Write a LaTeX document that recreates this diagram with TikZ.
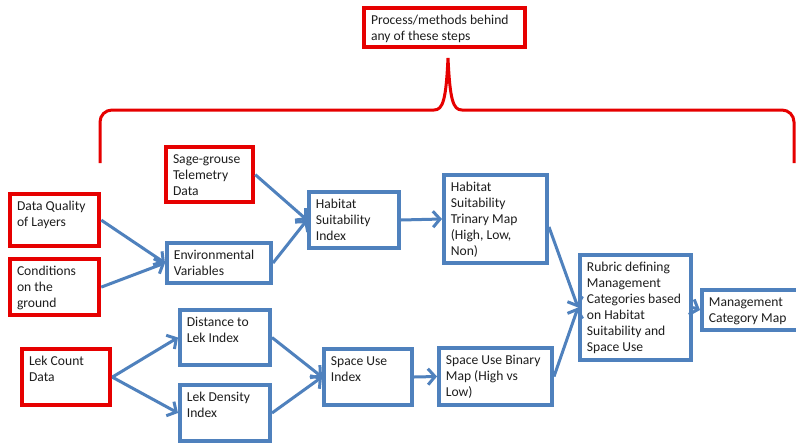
\documentclass[tikz,border=0pt]{standalone}
\usepackage{fontspec}
\setmainfont{Carlito}
\usetikzlibrary{arrows.meta}
\definecolor{bred}{RGB}{230,0,0}
\definecolor{bblue}{RGB}{79,129,189}
\definecolor{txtc}{RGB}{30,30,30}
% #1 style, #2 name, #3 x1, #4 y1, #5 x2, #6 y2 (outer edges, px), #7 lines
\newcommand\fbx[7]{\node[#1, anchor=north west] (#2) at (#3,#4)
  {\parbox[t][\dimexpr #6pt-#4pt-13.75pt\relax][t]{\dimexpr #5pt-#3pt-17.75pt\relax}{\begin{tabular}[t]{@{}l@{}}#7\end{tabular}}};}
\begin{document}
\begin{tikzpicture}[x=1pt,y=-1pt,
  font=\fontsize{13.6}{16}\selectfont,
  redbox/.style={draw=bred, line width=4pt, fill=white, text=txtc, inner xsep=7pt, inner ysep=5pt},
  bluebox/.style={draw=bblue, line width=3.75pt, fill=white, text=txtc, inner xsep=7pt, inner ysep=5pt},
  flow/.style={draw=bblue, line width=3pt, -{Straight Barb[length=7pt,width=16pt]}},
  brace/.style={draw=bred, line width=3pt}]
\useasboundingbox (0,0) rectangle (796,445);
\fill[white] (0,0) rectangle (796,445);

\fbx{redbox}{proc}{362}{6}{527}{49}{Process/methods behind\\any of these steps}
\fbx{redbox}{sage}{164}{145}{255}{204}{Sage-grouse\\Telemetry\\Data}
\fbx{redbox}{dq}{8}{192}{101}{248}{Data Quality\\of Layers}
\fbx{redbox}{cond}{8}{257}{101}{317}{Conditions\\on the\\ground}
\fbx{redbox}{lek}{20}{347}{112}{407}{Lek Count\\Data}
\fbx{bluebox}{env}{165}{241}{273}{285}{Environmental\\Variables}
\fbx{bluebox}{hsi}{307}{190}{401}{250}{Habitat\\Suitability\\Index}
\fbx{bluebox}{tri}{442}{173}{549}{265}{Habitat\\Suitability\\Trinary Map\\(High, Low,\\Non)}
\fbx{bluebox}{dist}{178}{308}{272}{367}{Distance to\\Lek Index}
\fbx{bluebox}{dens}{178}{383}{272}{443}{Lek Density\\Index}
\fbx{bluebox}{sui}{322}{347}{414}{407}{Space Use\\Index}
\fbx{bluebox}{bin}{437}{346}{554}{407}{Space Use Binary\\Map (High vs\\Low)}
\fbx{bluebox}{rub}{578}{253}{693}{362}{Rubric defining\\Management\\Categories based\\on Habitat\\Suitability and\\Space Use}
\fbx{bluebox}{mcm}{700}{288}{806}{332}{Management\\Category Map}

% brace
\draw[brace] (100,163) -- (100,122) to[out=90,in=180] (112,110) -- (434,110)
  .. controls (443,110) and (446,100) .. (448,58)
  .. controls (450,100) and (453,110) .. (462,110)
  -- (782,110) to[out=0,in=90] (794,122) -- (794,163);

% connectors
\draw[flow] (sage.east) -- (hsi.west);
\draw[flow] (env.east) -- (hsi.west);
\draw[flow] (dq.east) -- (env.west);
\draw[flow] (cond.east) -- (env.west);
\draw[flow] (hsi.east) -- (tri.west);
\draw[flow] ([yshift=-8pt]tri.east) -- (rub.west);
\draw[flow] (bin.east) -- (rub.west);
\draw[flow] (rub.east) -- (mcm.west);
\draw[flow] (lek.east) -- (dist.west);
\draw[flow] (lek.east) -- (dens.west);
\draw[flow] (dist.east) -- (sui.west);
\draw[flow] (dens.east) -- (sui.west);
\draw[flow] (sui.east) -- (bin.west);
\end{tikzpicture}
\end{document}
